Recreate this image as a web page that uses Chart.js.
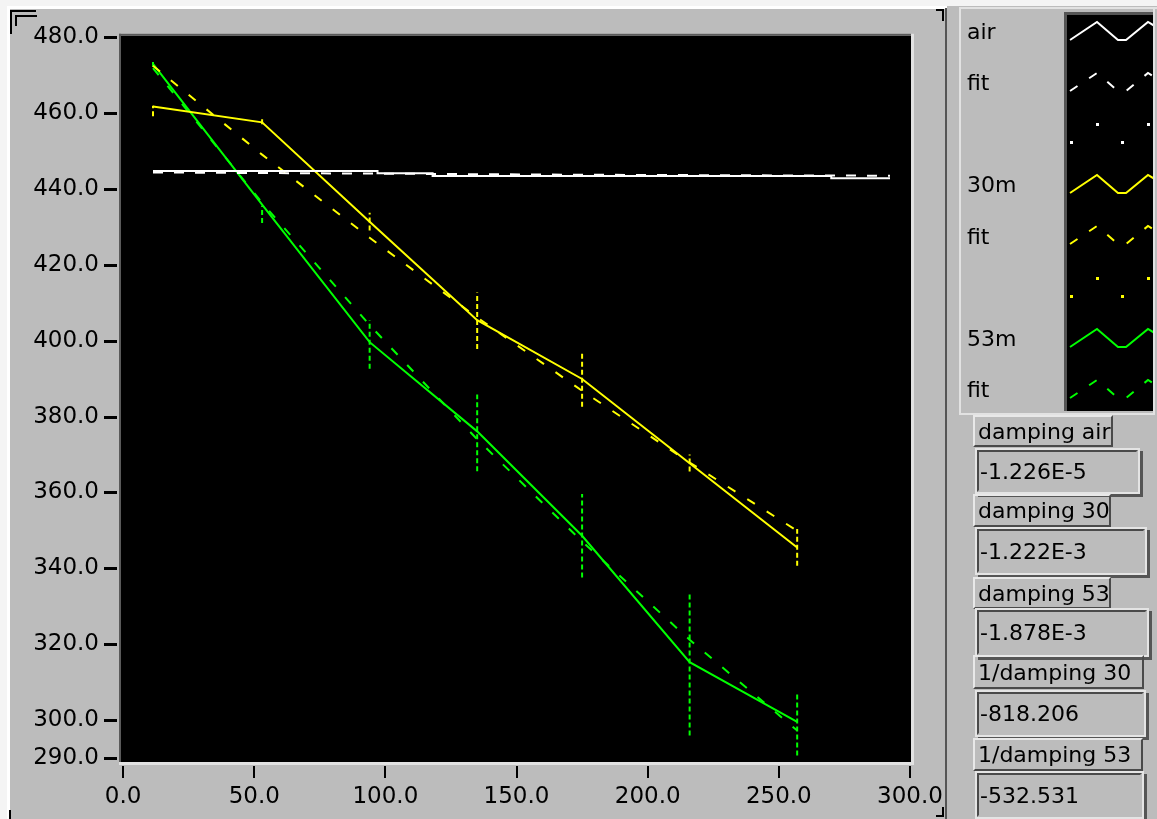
<!DOCTYPE html>
<html>
<head>
<meta charset="utf-8">
<script src="https://cdn.jsdelivr.net/npm/chart.js@4.4.1/dist/chart.umd.min.js"></script>
<style>
  body { margin: 0; width: 1157px; height: 819px; overflow: hidden; background: #bcbcbc; position: relative; font-family: "DejaVu Sans", sans-serif; }
  #graph { position: absolute; left: 0; top: 0; }
  .txt { position: absolute; font-size: 22px; color: #000; white-space: nowrap; }
  .lbl { position: absolute; box-sizing: border-box; border: 2px solid; border-color: #e8e8e8 #4a4a4a #4a4a4a #e8e8e8; font-size: 22px; padding-left: 3px; display: flex; align-items: center; white-space: nowrap; }
  .val { position: absolute; box-sizing: border-box; border: 2px solid; border-color: #4a4a4a #bcbcbc #bcbcbc #4a4a4a; box-shadow: 0 0 0 2px #e4e4e4, 3px 3px 0 2px #555; font-size: 22px; padding-left: 1px; display: flex; align-items: center; white-space: nowrap; }
</style>
</head>
<body>
<canvas id="graph" width="1157" height="819"></canvas>
<div id="panel"></div>
<script>
// sample times where the three runs were measured
const sampleX = [11.4, 53, 94, 135, 175, 216, 257];

// air run (stepped trace) and its fit
const airX = [11.4, 97, 118, 270, 292.4];
const airY = [444.7, 444.1, 443.4, 442.8, 442.8];
const airFitX = [11.4, 94, 175, 257, 292.4];
const airFitY = [444.3, 444.0, 443.7, 443.5, 443.45];

// 30m run
const y30 = [461.7, 457.5, 431.3, 405.4, 389.9, 367.7, 345.5];
const fit30 = [472.4, 449.0, 427.1, 406.1, 386.8, 367.9, 349.9];
const lo30 = [459.1, 457.0, 429.0, 397.8, 382.6, 365.5, 340.7];
const hi30 = [461.9, 458.3, 433.7, 412.7, 396.8, 370.0, 350.4];

// 53m run
const y53 = [472.9, 435.8, 399.6, 376.1, 348.6, 315.3, 299.6];
const fit53 = [471.8, 436.3, 404.1, 374.0, 347.1, 321.2, 297.3];
const lo53 = [472.1, 431.0, 392.6, 365.6, 337.6, 296.0, 290.7];
const hi53 = [473.5, 435.5, 405.4, 385.8, 359.6, 333.7, 307.5];

const xTicks = [0, 50, 100, 150, 200, 250, 300];
const yTicks = [290, 300, 320, 340, 360, 380, 400, 420, 440, 460, 480];

const legendNames = ['air', 'fit', '', '30m', 'fit', '', '53m', 'fit'];
const readouts = [
  ['damping air', '-1.226E-5'],
  ['damping 30', '-1.222E-3'],
  ['damping 53', '-1.878E-3'],
  ['1/damping 30', '-818.206'],
  ['1/damping 53', '-532.531']
];

const WHITE = '#ffffff', YELLOW = '#ffff00', GREEN = '#00ff00';

function pts(xs, ys) {
  return xs.map((x, i) => ({ x: x, y: ys[i] }));
}
function bars(xs, lo, hi) {
  const out = [];
  xs.forEach((x, i) => {
    out.push({ x: x, y: lo[i] }, { x: x, y: hi[i] }, { x: x, y: null });
  });
  return out;
}

const lineDs = (data, color, extra) => Object.assign({
  data: data, borderColor: color, backgroundColor: color, borderWidth: 2,
  showLine: true, pointRadius: 0, tension: 0, spanGaps: false
}, extra || {});

const datasets = [
  lineDs(pts(airX, airY), WHITE, { stepped: 'before' }),
  lineDs(pts(airFitX, airFitY), WHITE, { borderDash: [10, 11] }),
  lineDs(pts(sampleX, y30), YELLOW),
  lineDs(pts(sampleX, fit30), YELLOW, { borderDash: [9, 14] }),
  lineDs(bars(sampleX, lo30, hi30), YELLOW, { borderDash: [5, 3] }),
  lineDs(pts(sampleX, y53), GREEN),
  lineDs(pts(sampleX, fit53), GREEN, { borderDash: [9, 14] }),
  lineDs(bars(sampleX, lo53, hi53), GREEN, { borderDash: [5, 3] })
];

// LabVIEW style frame, tick marks and legend swatches
const panelPlugin = {
  id: 'panel',
  beforeDraw(chart) {
    const ctx = chart.ctx, a = chart.chartArea;
    ctx.save();
    ctx.fillStyle = '#000';
    ctx.fillRect(a.left, a.top, a.right - a.left, a.bottom - a.top);
    ctx.restore();
  },
  afterDraw(chart) {
    const ctx = chart.ctx, a = chart.chartArea;
    const xs = chart.scales.x, ys = chart.scales.y;
    ctx.save();
    // sunken border of plot area
    ctx.fillStyle = '#5a5a5a';
    ctx.fillRect(a.left - 2, a.top - 2, a.right - a.left + 2, 2);
    ctx.fillRect(a.left - 2, a.top - 2, 2, a.bottom - a.top + 2);
    ctx.fillStyle = '#e2e2e2';
    ctx.fillRect(a.left - 2, a.bottom, a.right - a.left + 5, 3);
    ctx.fillRect(a.right, a.top - 2, 3, a.bottom - a.top + 5);

    // tick marks
    ctx.fillStyle = '#000';
    yTicks.forEach(v => {
      const y = Math.round(ys.getPixelForValue(v));
      ctx.fillRect(104, y - 1, 13, 3);
    });
    xTicks.forEach(v => {
      const x = Math.round(xs.getPixelForValue(v));
      ctx.fillRect(x - 1, a.bottom + 4, 2, 12);
    });

    // outer frame
    ctx.fillStyle = '#f4f4f4';
    ctx.fillRect(0, 0, 7, 819);
    ctx.fillRect(0, 0, 1157, 6);
    ctx.fillStyle = '#ffffff';
    ctx.fillRect(7, 6, 940, 3);
    ctx.fillRect(7, 6, 3, 813);
    ctx.fillStyle = '#555';
    ctx.fillRect(945, 8, 2, 811);
    ctx.fillStyle = '#000';
    ctx.fillRect(10, 10, 26, 2);
    ctx.fillRect(10, 10, 2, 24);
    ctx.fillRect(15, 15, 22, 2);
    ctx.fillRect(15, 15, 2, 11);
    ctx.fillRect(936, 9, 8, 2);
    ctx.fillRect(942, 9, 2, 12);
    ctx.fillRect(936, 815, 8, 2);
    ctx.fillRect(942, 807, 2, 10);
    ctx.fillRect(9, 810, 2, 9);

    // legend box
    ctx.fillStyle = '#e2e2e2';
    ctx.fillRect(959, 7, 198, 2);
    ctx.fillRect(959, 7, 2, 408);
    ctx.fillRect(959, 413, 196, 2);
    ctx.fillRect(1153, 7, 2, 408);
    ctx.fillStyle = '#555';
    ctx.fillRect(1064, 12, 3, 399);
    ctx.fillRect(1064, 12, 89, 3);
    ctx.fillStyle = '#000';
    ctx.fillRect(1067, 15, 86, 396);

    const rows = [31, 82, 133, 184, 235, 287, 338, 389];
    const styles = [
      [WHITE, []], [WHITE, [9, 14]], [WHITE, 'dots'],
      [YELLOW, []], [YELLOW, [9, 14]], [YELLOW, 'dots'],
      [GREEN, []], [GREEN, [9, 14]]
    ];
    ctx.beginPath();
    ctx.rect(1067, 15, 86, 396);
    ctx.clip();
    rows.forEach((c, i) => {
      const [col, dash] = styles[i];
      const zig = [[1070, c + 9], [1097, c - 9], [1118, c + 9], [1126, c + 9], [1148, c - 9], [1158, c - 3]];
      if (dash === 'dots') {
        ctx.fillStyle = col;
        [[1071, c + 9], [1097, c - 9], [1122, c + 9], [1148, c - 9]].forEach(p => ctx.fillRect(p[0] - 1, p[1] - 1, 3, 3));
        return;
      }
      ctx.strokeStyle = col;
      ctx.lineWidth = 2;
      ctx.setLineDash(dash);
      ctx.beginPath();
      zig.forEach((p, k) => k ? ctx.lineTo(p[0], p[1]) : ctx.moveTo(p[0], p[1]));
      ctx.stroke();
    });
    ctx.restore();
  }
};

const tickFont = { family: 'DejaVu Sans', size: 23 };

new Chart(document.getElementById('graph'), {
  type: 'scatter',
  data: { datasets: datasets },
  options: {
    responsive: false,
    animation: false,
    layout: { padding: { left: 0, top: 32, right: 246, bottom: 0 } },
    plugins: { legend: { display: false }, tooltip: { enabled: false } },
    scales: {
      x: {
        type: 'linear', min: -0.8, max: 300.4,
        afterBuildTicks: s => { s.ticks = xTicks.map(v => ({ value: v })); },
        afterFit: s => { s.height = 57; },
        grid: { display: false, drawTicks: false },
        border: { display: false },
        ticks: { padding: 21, color: '#000', font: tickFont, maxRotation: 0, autoSkip: false, callback: v => v.toFixed(1) }
      },
      y: {
        type: 'linear', min: 289, max: 480.3,
        afterBuildTicks: s => { s.ticks = yTicks.map(v => ({ value: v })); },
        afterFit: s => { s.width = 121; },
        grid: { display: false, drawTicks: false },
        border: { display: false },
        ticks: { padding: 22, color: '#000', font: tickFont, autoSkip: false, callback: v => v.toFixed(1) }
      }
    }
  },
  plugins: [panelPlugin]
});

// legend labels and numeric readouts
const panel = document.getElementById('panel');
const legendRows = [33, 84, 135, 186, 238, 289, 340, 391];
legendNames.forEach((name, i) => {
  if (!name) return;
  const d = document.createElement('div');
  d.className = 'txt';
  d.textContent = name;
  d.style.left = '967px';
  d.style.top = (legendRows[i] - 14) + 'px';
  panel.appendChild(d);
});
const lblBoxes = [[973, 415, 140, 32], [973, 494, 138, 33], [973, 577, 138, 32], [973, 655, 171, 34], [973, 738, 170, 33]];
const valBoxes = [[977, 450, 161, 42], [977, 529, 168, 44], [977, 610, 170, 45], [977, 692, 167, 43], [977, 773, 165, 44]];
readouts.forEach((r, i) => {
  [[r[0], 'lbl', lblBoxes[i]], [r[1], 'val', valBoxes[i]]].forEach(([t, cls, b]) => {
    const d = document.createElement('div');
    d.className = cls;
    d.textContent = t;
    d.style.left = b[0] + 'px';
    d.style.top = b[1] + 'px';
    d.style.width = b[2] + 'px';
    d.style.height = b[3] + 'px';
    panel.appendChild(d);
  });
});
</script>
</body>
</html>
